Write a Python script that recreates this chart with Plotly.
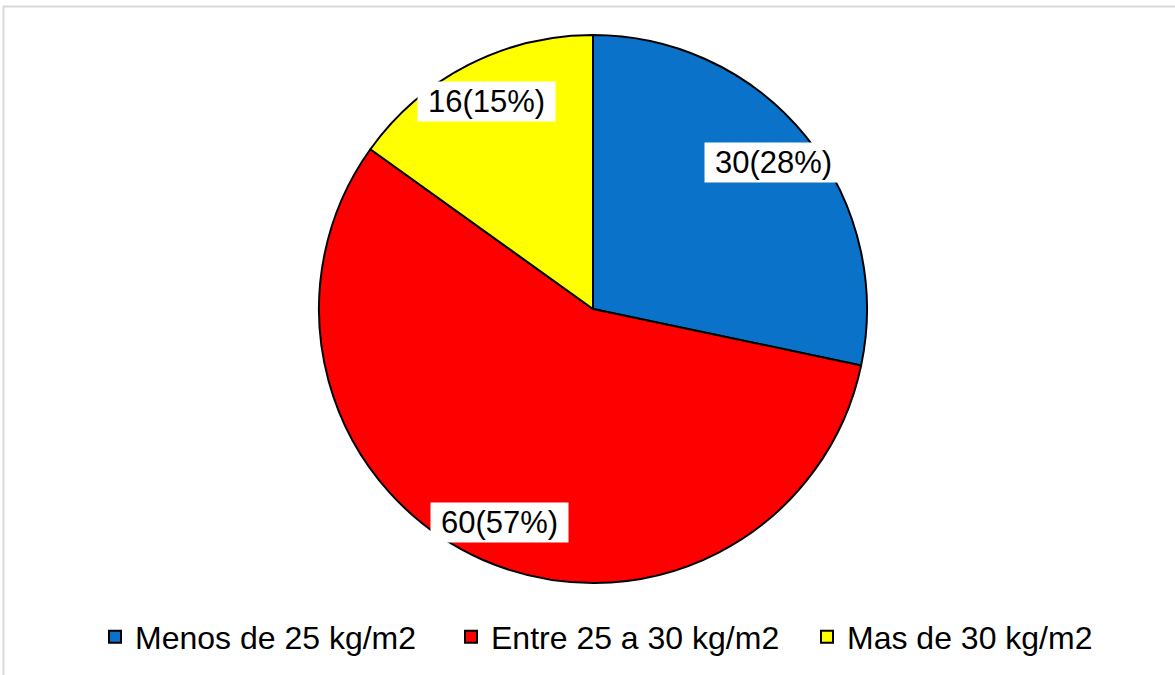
import math
import plotly.graph_objects as go

# Data
categories = ["Menos de 25 kg/m2", "Entre 25 a 30 kg/m2", "Mas de 30 kg/m2"]
counts = [30, 60, 16]
percent_labels = ["28%", "57%", "15%"]

colors = ["#0A72C8", "#FF0000", "#FFFF00"]

W, H = 1175, 675
CX, CY, R = 593, 309, 274          # pie centre and radius, pixels
LABEL_R = 0.85                     # label distance as a fraction of radius
FONT = "Liberation Sans, Arial, sans-serif"


def px_to_paper(x, y):
    return x / W, 1 - y / H


x0, y1 = px_to_paper(CX - R, CY - R)
x1, y0 = px_to_paper(CX + R, CY + R)

fig = go.Figure(
    go.Pie(
        labels=categories,
        values=counts,
        sort=False,
        direction="clockwise",
        rotation=0,
        textinfo="none",
        hoverinfo="skip",
        marker=dict(colors=colors, line=dict(color="#000000", width=2)),
        domain=dict(x=[x0, x1], y=[y0, y1]),
    )
)

# Value labels in white boxes, placed on each slice's mid angle
total = sum(counts)
cum = 0
annotations = []
for n, pct in zip(counts, percent_labels):
    mid = (cum + n / 2) / total * 2 * math.pi
    cum += n
    lx = CX + LABEL_R * R * math.sin(mid)
    ly = CY - LABEL_R * R * math.cos(mid)
    ax, ay = px_to_paper(lx, ly)
    annotations.append(
        dict(
            x=ax, y=ay, xref="paper", yref="paper",
            text=f"{n}({pct})", showarrow=False,
            font=dict(family=FONT, size=31, color="#000000"),
            bgcolor="#FFFFFF", borderpad=2, width=133,
            xanchor="center", yanchor="middle",
        )
    )

# Light frame along the top and left edges
shapes = [
    dict(type="line", xref="paper", yref="paper",
         x0=3 / W, x1=1, y0=1 - 6.5 / H, y1=1 - 6.5 / H,
         line=dict(color="#D9D9D9", width=2)),
    dict(type="line", xref="paper", yref="paper",
         x0=3.5 / W, x1=3.5 / W, y0=0, y1=1 - 6 / H,
         line=dict(color="#D9D9D9", width=2)),
]

fig.update_layout(
    width=W, height=H,
    margin=dict(l=0, r=0, t=0, b=0),
    paper_bgcolor="#FFFFFF",
    plot_bgcolor="#FFFFFF",
    showlegend=True,
    legend=dict(
        orientation="h",
        x=95 / W, y=1 - 637 / H,
        xanchor="left", yanchor="middle",
        font=dict(family=FONT, size=32, color="#000000"),
        entrywidth=311, entrywidthmode="pixels",
        itemwidth=30,
        tracegroupgap=0,
    ),
    annotations=annotations,
    shapes=shapes,
)

fig.write_html("out.html")
